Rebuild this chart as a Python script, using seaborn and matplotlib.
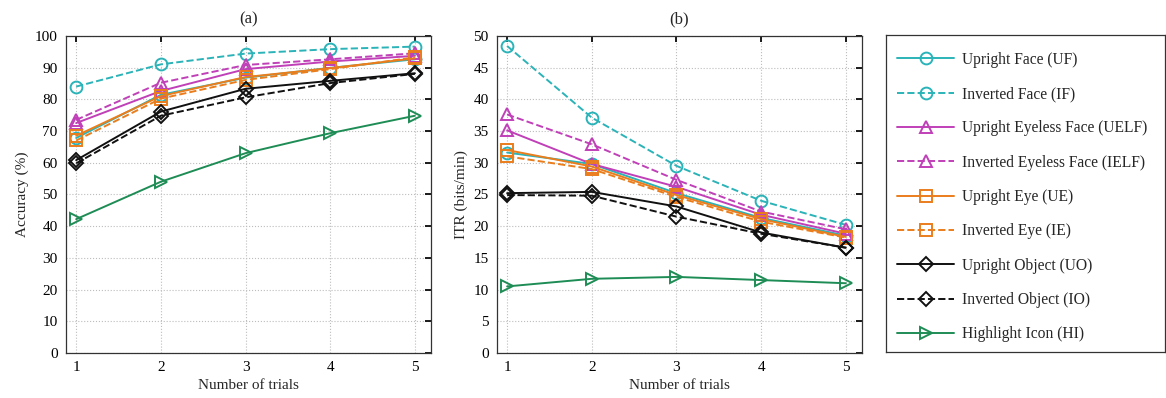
import matplotlib
matplotlib.use("Agg")
import matplotlib.pyplot as plt
import seaborn as sns
import pandas as pd

sns.set_theme(style="white")
plt.rcParams["font.family"] = ["Liberation Serif", "DejaVu Serif"]
plt.rcParams["mathtext.fontset"] = "stix"

trials = [1, 2, 3, 4, 5]

labels = [
    "Upright Face (UF)",
    "Inverted Face (IF)",
    "Upright Eyeless Face (UELF)",
    "Inverted Eyeless Face (IELF)",
    "Upright Eye (UE)",
    "Inverted Eye (IE)",
    "Upright Object (UO)",
    "Inverted Object (IO)",
    "Highlight Icon (HI)",
]

# Accuracy (%) per condition
acc_uf = [67.8, 81.4, 86.8, 89.9, 92.6]
acc_if = [84.0, 91.0, 94.4, 95.8, 96.6]
acc_uelf = [72.5, 82.6, 89.5, 91.9, 93.7]
acc_ielf = [73.5, 85.2, 90.8, 92.6, 94.5]
acc_ue = [68.5, 81.0, 87.0, 89.8, 92.9]
acc_ie = [67.0, 80.2, 86.1, 89.5, 93.2]
acc_uo = [60.8, 76.1, 83.3, 85.8, 88.2]
acc_io = [59.8, 74.8, 80.6, 85.1, 88.0]
acc_hi = [42.2, 54.0, 63.0, 69.3, 74.8]

# Information transfer rate (bits/min) per condition
itr_uf = [31.6, 29.8, 25.2, 21.3, 18.5]
itr_if = [48.4, 37.1, 29.5, 24.0, 20.2]
itr_uelf = [35.1, 29.8, 26.2, 21.8, 18.8]
itr_ielf = [37.6, 32.9, 27.3, 22.3, 19.5]
itr_ue = [32.0, 29.4, 24.9, 21.1, 18.3]
itr_ie = [31.0, 29.0, 24.6, 20.7, 18.2]
itr_uo = [25.2, 25.4, 23.1, 19.0, 16.6]
itr_io = [24.9, 24.8, 21.5, 18.8, 16.6]
itr_hi = [10.5, 11.7, 12.0, 11.5, 11.0]

acc_series = [acc_uf, acc_if, acc_uelf, acc_ielf, acc_ue, acc_ie, acc_uo, acc_io, acc_hi]
itr_series = [itr_uf, itr_if, itr_uelf, itr_ielf, itr_ue, itr_ie, itr_uo, itr_io, itr_hi]

cyan = "#2BB3B8"
magenta = "#C040B8"
orange = "#EA7D1C"
black = "#111111"
green = "#1E8C55"
styles = [
    (cyan, "-", "o"),
    (cyan, "--", "o"),
    (magenta, "-", "^"),
    (magenta, "--", "^"),
    (orange, "-", "s"),
    (orange, "--", "s"),
    (black, "-", "D"),
    (black, "--", "D"),
    (green, "-", ">"),
]

fig = plt.figure(figsize=(11.66, 3.98), dpi=100)
ax_a = fig.add_axes([0.0566, 0.113, 0.313, 0.797])
ax_b = fig.add_axes([0.4262, 0.113, 0.313, 0.797])
ax_leg = fig.add_axes([0.7599, 0.116, 0.239, 0.797])


def draw(ax, series):
    for vals, lab, (col, ls, mk) in zip(series, labels, styles):
        df = pd.DataFrame({"trial": trials, "value": vals})
        ms = 8.5 if mk != "D" else 7.5
        sns.lineplot(
            data=df, x="trial", y="value", ax=ax, color=col, linestyle=ls,
            marker=mk, markersize=ms, markerfacecolor="none",
            markeredgecolor=col, markeredgewidth=1.4, linewidth=1.4,
            label=lab, legend=False,
        )


draw(ax_a, acc_series)
draw(ax_b, itr_series)

for ax in (ax_a, ax_b):
    ax.set_xlim(0.88, 5.19)
    ax.set_xticks(trials)
    ax.grid(True, color="#bdbdbd", linestyle=":", linewidth=0.8)
    ax.tick_params(direction="in", top=True, right=True, length=4,
                   labelsize=11, colors="black", pad=6)
    for sp in ax.spines.values():
        sp.set_color("#333333")
        sp.set_linewidth(0.9)
    ax.set_xlabel("Number of trials", fontsize=11, labelpad=3)

ax_a.set_ylim(0, 100)
ax_a.set_yticks(range(0, 101, 10))
ax_a.set_ylabel("Accuracy (%)", fontsize=11, labelpad=4)
ax_a.set_title("(a)", fontsize=12, pad=9)

ax_b.set_ylim(0, 50)
ax_b.set_yticks(range(0, 51, 5))
ax_b.set_ylabel("ITR (bits/min)", fontsize=11, labelpad=4)
ax_b.set_title("(b)", fontsize=12, pad=9)

# legend panel
ax_leg.set_xticks([])
ax_leg.set_yticks([])
for sp in ax_leg.spines.values():
    sp.set_color("#333333")
    sp.set_linewidth(0.9)
handles, labs = ax_b.get_legend_handles_labels()
ax_leg.legend(handles, labs, loc="center left", frameon=False, fontsize=11.2,
              numpoints=1, handlelength=3.7, handletextpad=0.5,
              labelspacing=1.18, borderaxespad=0.3, bbox_to_anchor=(0.0, 0.488))

fig.savefig("out.png", dpi=100)
